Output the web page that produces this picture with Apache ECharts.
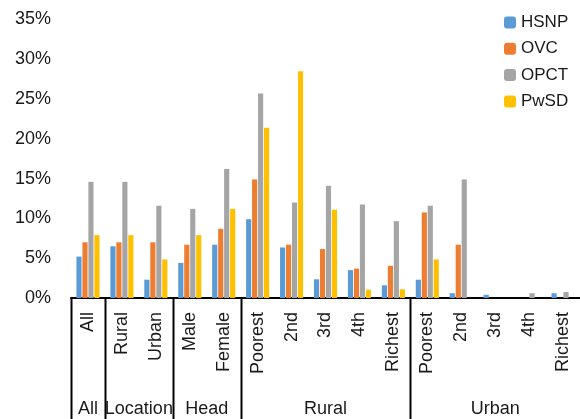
<!DOCTYPE html>
<html>
<head>
<meta charset="utf-8">
<script src="https://cdn.jsdelivr.net/npm/echarts@6/dist/echarts.min.js"></script>
<style>
  html, body { margin: 0; padding: 0; background: #fff; }
  #chart { width: 580px; height: 419px; }
</style>
</head>
<body>
<div id="chart"></div>
<script>
// Category labels (inner level) and their outer groups
const categories = ['All', 'Rural', 'Urban', 'Male', 'Female',
  'Poorest', '2nd', '3rd', '4th', 'Richest',
  'Poorest', '2nd', '3rd', '4th', 'Richest'];
const groupNames = ['All', 'Location', 'Head', 'Rural', 'Urban'];
const groupSizes = [1, 2, 2, 5, 5];

// Coverage shares (%) per programme
const hsnp = [5.2, 6.5, 2.3, 4.4, 6.7, 9.9, 6.35, 2.35, 3.5, 1.6, 2.3, 0.6, 0.4, 0, 0.6];
const ovc  = [7.0, 7.0, 7.0, 6.7, 8.7, 14.9, 6.7, 6.15, 3.7, 4.05, 10.75, 6.7, 0, 0, 0];
const opct = [14.6, 14.6, 11.6, 11.2, 16.2, 25.7, 12.0, 14.1, 11.75, 9.65, 11.6, 14.9, 0, 0.6, 0.75];
const pwsd = [7.9, 7.9, 4.85, 7.9, 11.2, 21.4, 28.5, 11.1, 1.05, 1.1, 4.85, 0, 0, 0, 0];

const yTicks = [0, 5, 10, 15, 20, 25, 30, 35];

const FONT = '"Liberation Sans", Arial, sans-serif';
const chart = echarts.init(document.getElementById('chart'), null, { renderer: 'canvas' });

function mkSeries(name, data, color) {
  return {
    name: name,
    type: 'bar',
    data: data,
    itemStyle: { color: color },
    barGap: '16%',
    barCategoryGap: '32%',
    animation: false
  };
}

chart.setOption({
  animation: false,
  backgroundColor: '#ffffff',
  textStyle: { fontFamily: FONT },
  grid: { left: 71, right: -4, top: 19.5, bottom: 121, containLabel: false },
  legend: {
    orient: 'vertical',
    left: 504,
    top: 14,
    padding: 0,
    itemWidth: 12,
    itemHeight: 12,
    itemGap: 9.3,
    textStyle: { fontFamily: FONT, fontSize: 17, color: '#1a1a1a', lineHeight: 17 },
    data: ['HSNP', 'OVC', 'OPCT', 'PwSD']
  },
  xAxis: {
    type: 'category',
    data: categories,
    axisLine: { show: true, lineStyle: { color: '#000', width: 2 } },
    axisTick: { show: false },
    axisLabel: {
      interval: 0,
      rotate: 90,
      margin: 14,
      fontFamily: FONT,
      fontSize: 18,
      color: '#1a1a1a'
    },
    splitLine: { show: false }
  },
  yAxis: {
    type: 'value',
    min: yTicks[0],
    max: yTicks[yTicks.length - 1],
    interval: 5,
    axisLine: { show: false },
    axisTick: { show: false },
    splitLine: { show: false },
    axisLabel: {
      margin: 20,
      fontFamily: FONT,
      fontSize: 18,
      color: '#1a1a1a',
      formatter: v => v + '%'
    }
  },
  series: [
    mkSeries('HSNP', hsnp, '#5B9BD5'),
    mkSeries('OVC', ovc, '#ED7D31'),
    mkSeries('OPCT', opct, '#A5A5A5'),
    mkSeries('PwSD', pwsd, '#FFC000')
  ]
});

// Outer-level group separators and group names, placed from the category axis scale
function drawGroups() {
  const c0 = chart.convertToPixel({ xAxisIndex: 0 }, 0);
  const c1 = chart.convertToPixel({ xAxisIndex: 0 }, 1);
  const step = c1 - c0;
  const axisY = chart.convertToPixel({ yAxisIndex: 0 }, 0);
  const bottom = chart.getHeight();
  const elements = [];
  let start = 0;
  groupNames.forEach((name, i) => {
    const left = c0 - step / 2 + start * step;
    const right = left + groupSizes[i] * step;
    elements.push({
      type: 'line',
      shape: { x1: Math.round(left) + 0.5, y1: axisY, x2: Math.round(left) + 0.5, y2: bottom },
      style: { stroke: '#000', lineWidth: 2 },
      silent: true
    });
    elements.push({
      type: 'text',
      x: (left + right) / 2,
      y: 409,
      style: {
        text: name,
        font: '18px ' + FONT,
        fill: '#1a1a1a',
        align: 'center',
        verticalAlign: 'middle'
      },
      silent: true
    });
    start += groupSizes[i];
  });
  chart.setOption({ graphic: { elements: elements } });
}
drawGroups();
</script>
</body>
</html>
